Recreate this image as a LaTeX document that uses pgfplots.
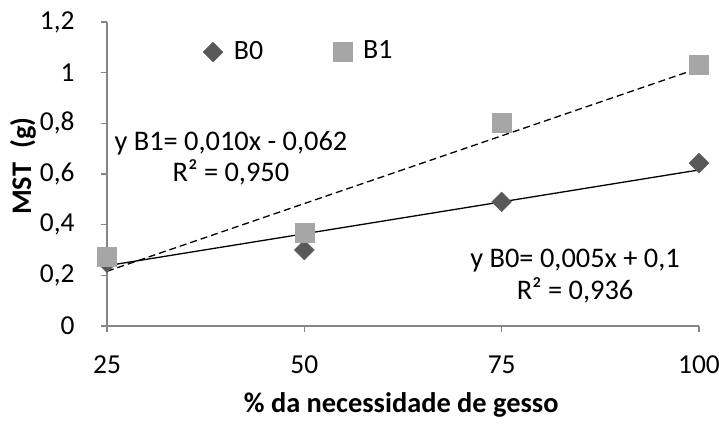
\documentclass[border=0pt]{standalone}
\usepackage{fontspec}
\setmainfont{Carlito}
\usepackage{pgfplots}
\pgfplotsset{compat=1.18}
\definecolor{bzero}{HTML}{595959}
\definecolor{bone}{HTML}{A6A6A6}
\definecolor{axgray}{HTML}{868686}
\begin{document}
\fontsize{28}{33}\selectfont
\begin{tikzpicture}
\path[use as bounding box] (-107bp,-98bp) rectangle (612bp,326bp);
\begin{axis}[
  scale only axis, width=592bp, height=304bp,
  xmin=25, xmax=100, ymin=0, ymax=1.2,
  axis lines=left, axis line style={-, axgray, line width=1.2bp},
  xtick={25,50,75,100}, ytick={0,0.2,0.4,0.6,0.8,1,1.2},
  tick style={axgray, line width=1.2bp}, tick align=outside, major tick length=6bp,
  /pgf/number format/use comma, /pgf/number format/assume math mode=true,
  ticklabel style={font=\fontsize{27.5}{33}\selectfont},
  yticklabel style={anchor=east, xshift=-17bp},
  xticklabel style={anchor=base, yshift=-41bp},
  xlabel={\textbf{\% da necessidade de gesso}},
  ylabel={\textbf{MST\hspace{0.5em}(g)}},
  label style={font=\fontsize{28.5}{33}\selectfont},
  xlabel style={at={(axis description cs:0.497,-0.286)}, anchor=base},
  ylabel style={at={(axis description cs:-0.142,0.526)}, anchor=center},
  legend style={draw=none, fill=none, at={(0.157,0.901)}, anchor=west, font=\fontsize{28}{33}\selectfont,
    /tikz/every odd column/.append style={column sep=9bp},
    /tikz/every even column/.append style={column sep=68bp}},
  legend columns=2,
  legend cell align=left,
  clip=false,
]
\addplot[only marks, mark=square*, mark size=7bp, mark options={rotate=45, fill=bzero, draw=bzero}]
  coordinates {(25,0.25) (50,0.300) (75,0.490) (100,0.643)};
\addlegendentry{B0}
\addplot[only marks, mark=square*, mark size=9.5bp, mark options={fill=bone, draw=bone}]
  coordinates {(25,0.274) (50,0.370) (75,0.801) (100,1.030)};
\addlegendentry{B1}
\addplot[black, line width=1.3bp, forget plot] coordinates {(25,0.238) (100,0.616)};
\addplot[black, line width=1.3bp, dash pattern=on 7bp off 4bp, forget plot] coordinates {(25,0.216) (100,1.018)};
\node[align=center, font=\fontsize{28.5}{31}\selectfont] at (axis cs:40.7,0.663) {y B1= 0,010x - 0,062\\R² = 0,950};
\node[align=center, font=\fontsize{28.5}{32}\selectfont] at (axis cs:84.3,0.197) {y B0= 0,005x + 0,1\\R² = 0,936};
\end{axis}
\end{tikzpicture}
\end{document}
